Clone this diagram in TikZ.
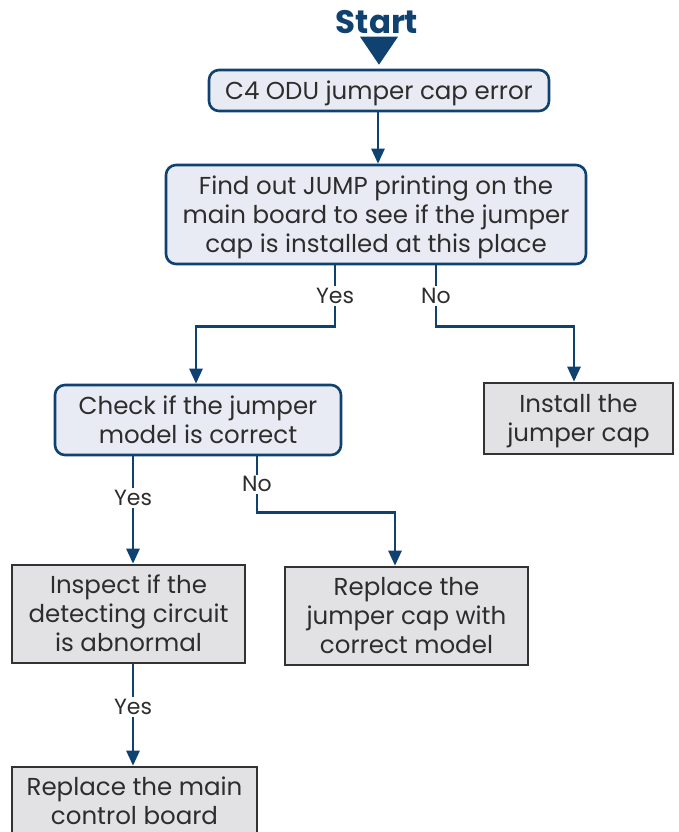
\documentclass[tikz,border=0pt]{standalone}
\usepackage{fontspec}
\setmainfont{Poppins}
\usetikzlibrary{arrows.meta,calc}
\definecolor{navy}{HTML}{0F4270}
\definecolor{boxblue}{HTML}{E8EBF3}
\definecolor{boxgray}{HTML}{E2E2E4}
\definecolor{edgegray}{HTML}{333333}
\definecolor{textgray}{HTML}{2D2D2D}
\tikzset{
  decision/.style={draw=navy, line width=2.6pt, fill=boxblue, rounded corners=10pt,
    align=center, text=textgray, font=\fontsize{24.5}{29}\selectfont, inner sep=0pt},
  action/.style={draw=edgegray, line width=2.6pt, fill=boxgray,
    align=center, text=textgray, font=\fontsize{24.5}{29}\selectfont, inner sep=0pt},
  flow/.style={navy, line width=2.6pt, -{Triangle[width=13pt,length=15pt]}},
  lbl/.style={fill=white, text=textgray, font=\fontsize{22}{24}\selectfont, inner sep=2pt}
}
\newcommand{\topstrut}{\rule{0pt}{25pt}}
\newcommand{\botstrut}{\rule[-8pt]{0pt}{0pt}}
\begin{document}
\begin{tikzpicture}[x=1pt,y=-1pt]
  \useasboundingbox (0,0) rectangle (678,832);
  \clip (0,0) rectangle (678,832);
  % Inicio
  \node[text=navy, font=\fontsize{32.5}{32}\selectfont\bfseries] (start) at (377,22) {Start};
  \node[decision, minimum width=340pt, minimum height=41pt] (err) at (379,90.5)
    {\topstrut C4 ODU jumper cap error};
  \fill[navy] (err.north) ++(0,-4) -- ++(-19,-28) -- ++(38,0) -- cycle;
  % Primera pregunta
  \node[decision, minimum width=420pt, minimum height=99pt] (find) at (376,214.5)
    {\topstrut Find out JUMP printing on the\\main board to see if the jumper\\cap is installed at this place\botstrut};
  \draw[flow] (err.south -| 378,0) -- (find.north -| 378,0);
  \node[decision, minimum width=286pt, minimum height=70pt] (check) at (198,420)
    {\topstrut Check if the jumper\\model is correct\botstrut};
  \node[action, minimum width=189pt, minimum height=71pt] (install) at (578.5,418.5)
    {\topstrut Install the\\jumper cap\botstrut};
  \draw[flow] ($(find.south)+(-41,0)$) -- node[lbl]{Yes} ++(0,61) -| ($(check.north)+(-2,0)$);
  \draw[flow] ($(find.south)+(60,0)$) -- node[lbl]{No} ++(0,61) -| ($(install.north)+(-4.5,0)$);
  % Segunda pregunta
  \node[action, minimum width=233pt, minimum height=98pt] (inspect) at (128.5,614)
    {\topstrut Inspect if the\\detecting circuit\\is abnormal\botstrut};
  \node[action, minimum width=243pt, minimum height=98pt] (replj) at (406.5,616)
    {\topstrut Replace the\\jumper cap with\\correct model\botstrut};
  \draw[flow] ($(check.south)+(-65,0)$) -- node[lbl, pos=0.39]{Yes} ($(inspect.north)+(4.5,0)$);
  \draw[flow] ($(check.south)+(59,0)$) -- node[lbl]{No} ++(0,56) -| ($(replj.north)+(-11.5,0)$);
  % Final
  \node[action, minimum width=245pt, minimum height=73pt] (board) at (134.5,803.5)
    {Replace the main\\control board\rule[-5pt]{0pt}{0pt}};
  \draw[flow] ($(inspect.south)+(4.5,0)$) -- node[lbl, pos=0.42]{Yes} ($(board.north)+(-1.5,0)$);
\end{tikzpicture}
\end{document}
